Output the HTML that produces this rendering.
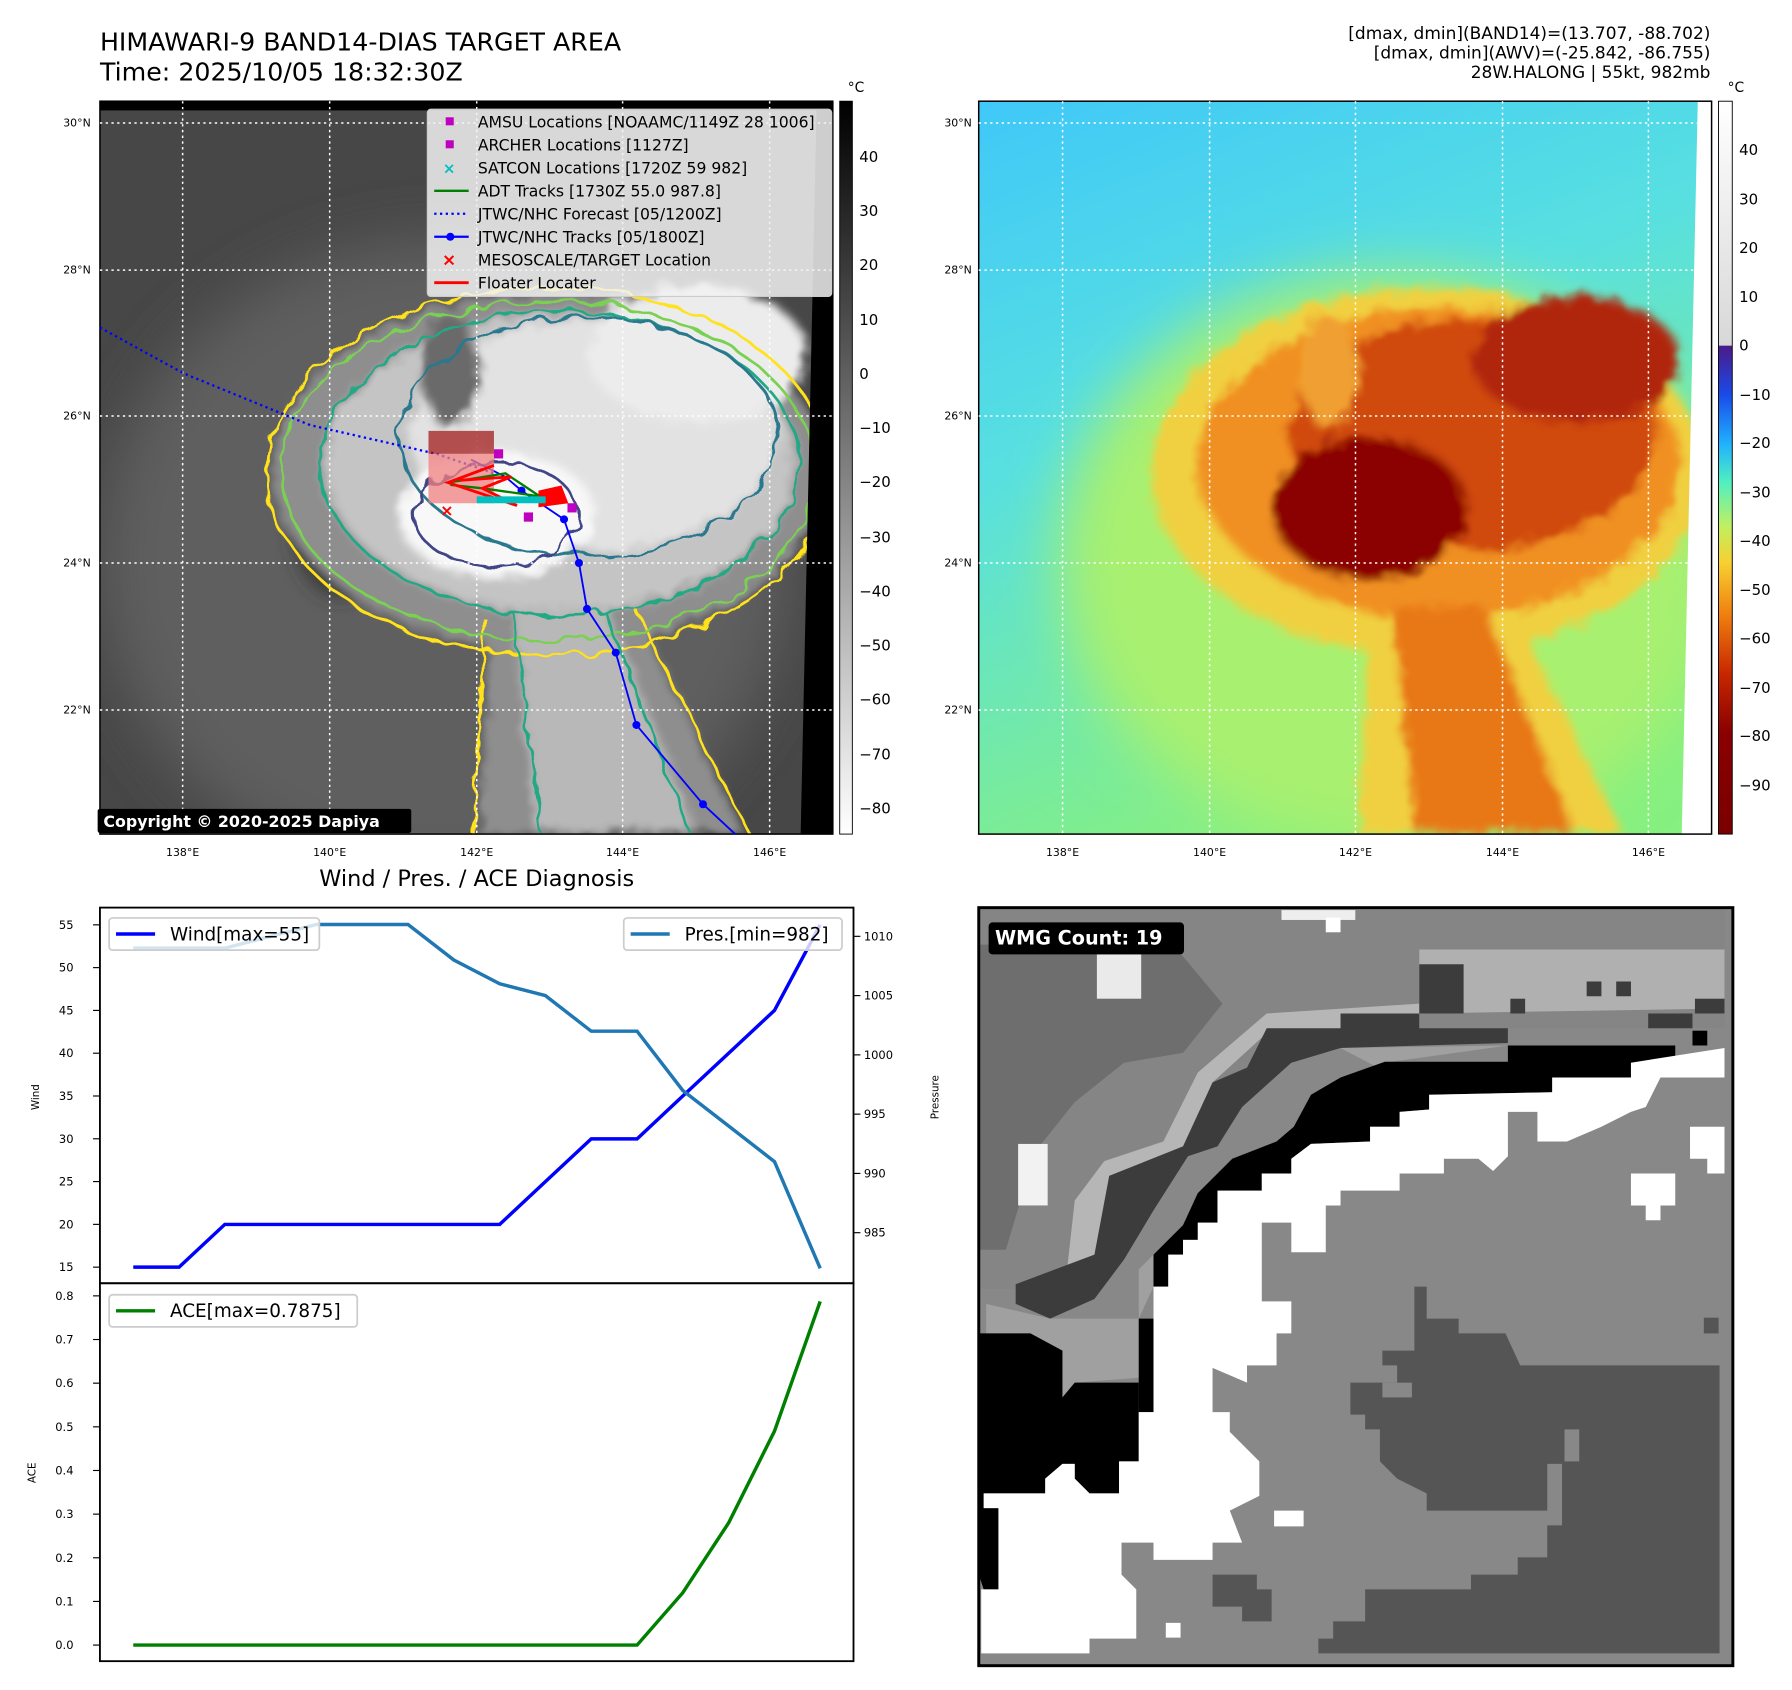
<!DOCTYPE html>
<html><head><meta charset="utf-8"><style>
html,body{margin:0;padding:0;background:#fff;}
svg{display:block;font-family:"DejaVu Sans","Liberation Sans",sans-serif;}
</style></head><body>
<svg id="root" width="1792" height="1690" viewBox="0 0 1560 1471" xmlns="http://www.w3.org/2000/svg">
<defs>
  <filter id="b30" x="-50%" y="-50%" width="200%" height="200%"><feGaussianBlur stdDeviation="25"/></filter>
  <filter id="b10" x="-50%" y="-50%" width="200%" height="200%"><feGaussianBlur stdDeviation="9"/></filter>
  <filter id="b4" x="-50%" y="-50%" width="200%" height="200%"><feGaussianBlur stdDeviation="4"/></filter>
  <filter id="wig" x="-10%" y="-10%" width="120%" height="120%"><feTurbulence type="fractalNoise" baseFrequency="0.05" numOctaves="2" seed="3"/><feDisplacementMap in="SourceGraphic" scale="14"/></filter>
  <clipPath id="cmap"><rect x="0" y="0" width="638" height="638"/></clipPath>
  <linearGradient id="gray" x1="0" y1="0" x2="0" y2="1"><stop offset="0" stop-color="#000"/><stop offset="1" stop-color="#fff"/></linearGradient>
  <linearGradient id="awv" x1="0" y1="0" x2="0" y2="1">
    <stop offset="0" stop-color="#ffffff"/><stop offset="0.333" stop-color="#d8d8d8"/>
    <stop offset="0.334" stop-color="#4b1a8a"/><stop offset="0.40" stop-color="#1a4ae8"/>
    <stop offset="0.467" stop-color="#20b0ff"/><stop offset="0.52" stop-color="#50f0c0"/>
    <stop offset="0.58" stop-color="#c0f060"/><stop offset="0.63" stop-color="#f8d030"/>
    <stop offset="0.70" stop-color="#f08010"/><stop offset="0.78" stop-color="#c82800"/>
    <stop offset="0.86" stop-color="#8b0000"/><stop offset="1" stop-color="#7a0000"/>
  </linearGradient>
  <linearGradient id="awvbg" x1="0" y1="0" x2="0.4" y2="1"><stop offset="0" stop-color="#40c8f8"/><stop offset="0.45" stop-color="#58e0e0"/><stop offset="1" stop-color="#86f080"/></linearGradient>
</defs>

<!-- Titles -->
<text x="87" y="44" font-size="22">HIMAWARI-9 BAND14-DIAS TARGET AREA</text>
<text x="87" y="70" font-size="22">Time: 2025/10/05 18:32:30Z</text>
<text x="1489" y="34" font-size="14.8" text-anchor="end">[dmax, dmin](BAND14)=(13.707, -88.702)</text>
<text x="1489" y="51" font-size="14.8" text-anchor="end">[dmax, dmin](AWV)=(-25.842, -86.755)</text>
<text x="1489" y="68" font-size="14.8" text-anchor="end">28W.HALONG | 55kt, 982mb</text>

<!-- LEFT MAP -->
<g transform="translate(87,88)">
 <g clip-path="url(#cmap)">
  <rect width="638" height="638" fill="#474747"/>
  <ellipse cx="300" cy="400" rx="300" ry="280" fill="#5e5e5e" filter="url(#b30)"/>
  <ellipse cx="210" cy="370" rx="40" ry="60" fill="#303030" filter="url(#b10)"/>
  <g filter="url(#wig)">
   <g filter="url(#b4)">
    <ellipse cx="390" cy="322" rx="240" ry="155" fill="#8e8e8e"/>
    <polygon points="340,440 460,430 560,638 330,638" fill="#8e8e8e"/>
    <ellipse cx="400" cy="315" rx="205" ry="130" fill="#c4c4c4"/>
    <polygon points="360,440 440,440 520,638 380,638" fill="#b8b8b8"/>
    <ellipse cx="430" cy="290" rx="160" ry="100" fill="#e2e2e2"/>
    <ellipse cx="520" cy="220" rx="95" ry="60" fill="#ececec"/>
    <ellipse cx="305" cy="235" rx="25" ry="50" fill="#6a6a6a"/>
    <ellipse cx="345" cy="360" rx="85" ry="55" fill="#f8f8f8"/>
   </g>
   <g fill="none" stroke-width="2.4">
    <ellipse cx="390" cy="322" rx="245" ry="160" stroke="#ffe21a"/>
    <polyline points="335,450 325,638" stroke="#ffe21a"/><polyline points="465,440 565,638" stroke="#ffe21a"/>
    <ellipse cx="390" cy="322" rx="232" ry="148" stroke="#7ad151"/>
    <ellipse cx="400" cy="315" rx="208" ry="132" stroke="#22a884"/>
    <polyline points="360,445 385,638" stroke="#22a884"/><polyline points="440,445 515,638" stroke="#22a884"/>
    <ellipse cx="425" cy="292" rx="165" ry="104" stroke="#2a788e"/>
    <ellipse cx="345" cy="360" rx="72" ry="45" stroke="#414487"/>
   </g>
  </g>
  <polygon points="624,0 638,0 638,638 610,638" fill="#000"/>
  <rect x="0" y="0" width="638" height="8" fill="#000"/>
 </g>
 <rect width="638" height="638" fill="none" stroke="#000" stroke-width="1.3"/>
</g>
<g stroke="#fff" stroke-width="1.3" stroke-dasharray="2,3">
 <line x1="159" y1="88" x2="159" y2="726"/><line x1="287" y1="88" x2="287" y2="726"/><line x1="415" y1="88" x2="415" y2="726"/><line x1="542" y1="88" x2="542" y2="726"/><line x1="670" y1="88" x2="670" y2="726"/>
 <line x1="87" y1="107" x2="725" y2="107"/><line x1="87" y1="235" x2="725" y2="235"/><line x1="87" y1="362" x2="725" y2="362"/><line x1="87" y1="490" x2="725" y2="490"/><line x1="87" y1="618" x2="725" y2="618"/>
</g>
<polyline points="87,285 160,325 270,370 380,395 430,412" fill="none" stroke="#0000ff" stroke-width="2" stroke-dasharray="2,3"/>
<g>
 <polyline points="410,400 440,415 454,427 491,452 504,490 511,530 536,568 554,631 612,700 640,726" fill="none" stroke="#0000ff" stroke-width="1.6"/>
 <g fill="#0000ff"><circle cx="454" cy="427" r="3.5"/><circle cx="491" cy="452" r="3.5"/><circle cx="504" cy="490" r="3.5"/><circle cx="511" cy="530" r="3.5"/><circle cx="536" cy="568" r="3.5"/><circle cx="554" cy="631" r="3.5"/><circle cx="612" cy="700" r="3.5"/></g>
</g>
<rect x="373" y="375" width="57" height="20" fill="#a01010" opacity="0.7"/>
<rect x="373" y="395" width="57" height="43" fill="#f08080" opacity="0.75"/>
<g stroke="#008000" stroke-width="2" fill="none"><polyline points="390,420 440,412 470,432 420,425 392,422"/></g>
<g fill="#ff0000" stroke="#ff0000" stroke-width="2.5"><polyline points="430,405 390,420 450,440 420,425 445,415 400,418" fill="none"/><polygon points="470,428 488,424 493,437 470,440"/></g>
<g fill="#00c0c0"><rect x="415" y="432" width="60" height="6"/></g>
<g fill="#c000c0"><rect x="430" y="391" width="8" height="8"/><rect x="494" y="438" width="8" height="8"/><rect x="456" y="446" width="8" height="8"/></g>
<text x="389" y="449" font-size="14" fill="#ff0000" text-anchor="middle" font-weight="bold">×</text>

<g>
 <rect x="372" y="95" width="352" height="163" rx="3" fill="#f2f2f2" fill-opacity="0.85" stroke="#ccc"/>
 <g font-size="13.6">
  <rect x="388" y="102" width="7" height="7" fill="#c000c0"/><text x="416" y="111">AMSU Locations [NOAAMC/1149Z 28 1006]</text>
  <rect x="388" y="122" width="7" height="7" fill="#c000c0"/><text x="416" y="131">ARCHER Locations [1127Z]</text>
  <text x="391" y="151" fill="#00c0c0" text-anchor="middle" font-weight="bold" font-size="13">×</text><text x="416" y="151">SATCON Locations [1720Z 59 982]</text>
  <line x1="378" y1="166" x2="408" y2="166" stroke="#008000" stroke-width="2"/><text x="416" y="171">ADT Tracks [1730Z 55.0 987.8]</text>
  <line x1="378" y1="186" x2="408" y2="186" stroke="#0000ff" stroke-width="2" stroke-dasharray="2,3"/><text x="416" y="191">JTWC/NHC Forecast [05/1200Z]</text>
  <line x1="378" y1="206" x2="408" y2="206" stroke="#0000ff" stroke-width="2"/><circle cx="392" cy="206" r="3.5" fill="#0000ff"/><text x="416" y="211">JTWC/NHC Tracks [05/1800Z]</text>
  <text x="391" y="231" fill="#ff0000" text-anchor="middle" font-weight="bold" font-size="15">×</text><text x="416" y="231">MESOSCALE/TARGET Location</text>
  <line x1="378" y1="246" x2="408" y2="246" stroke="#ff0000" stroke-width="2.5"/><text x="416" y="251">Floater Locater</text>
 </g>
</g>
<rect x="85" y="704" width="273" height="21" rx="2" fill="#000"/>
<text x="90" y="720" font-size="13.8" font-weight="bold" fill="#fff">Copyright © 2020-2025 Dapiya</text>

<g font-size="9.5" text-anchor="end">
 <text x="79" y="110">30°N</text><text x="79" y="238">28°N</text><text x="79" y="365">26°N</text><text x="79" y="493">24°N</text><text x="79" y="621">22°N</text>
</g>
<g font-size="9.5" text-anchor="middle">
 <text x="159" y="745">138°E</text><text x="287" y="745">140°E</text><text x="415" y="745">142°E</text><text x="542" y="745">144°E</text><text x="670" y="745">146°E</text>
</g>
<rect x="731" y="88" width="11" height="638" fill="url(#gray)" stroke="#000" stroke-width="0.8"/>
<text x="738" y="80" font-size="12">°C</text>
<g font-size="13">
 <text x="748" y="141">40</text><text x="748" y="188">30</text><text x="748" y="235">20</text><text x="748" y="283">10</text><text x="748" y="330">0</text><text x="748" y="377">−10</text><text x="748" y="424">−20</text><text x="748" y="472">−30</text><text x="748" y="519">−40</text><text x="748" y="566">−50</text><text x="748" y="613">−60</text><text x="748" y="661">−70</text><text x="748" y="708">−80</text>
</g>

<!-- RIGHT MAP -->
<g transform="translate(852,88)">
 <g clip-path="url(#cmap)">
  <rect width="638" height="638" fill="url(#awvbg)"/>
  <ellipse cx="360" cy="400" rx="290" ry="250" fill="#a8f070" filter="url(#b30)"/>
  <g filter="url(#wig)">
   <g filter="url(#b4)">
    <ellipse cx="390" cy="322" rx="240" ry="160" fill="#f0d040"/>
    <polygon points="340,440 460,430 560,638 330,638" fill="#f0d040"/>
    <ellipse cx="400" cy="315" rx="210" ry="135" fill="#f09020"/>
    <polygon points="360,440 440,440 520,638 380,638" fill="#e87818"/>
    <ellipse cx="430" cy="290" rx="160" ry="100" fill="#d04808"/>
    <ellipse cx="520" cy="225" rx="90" ry="55" fill="#b02808"/>
    <ellipse cx="305" cy="235" rx="25" ry="50" fill="#f0a030"/>
    <ellipse cx="340" cy="355" rx="85" ry="62" fill="#8b0000"/>
   </g>
  </g>
  <polygon points="626,0 638,0 638,638 612,638" fill="#fff"/>
 </g>
 <rect width="638" height="638" fill="none" stroke="#000" stroke-width="1.3"/>
</g>
<g stroke="#fff" stroke-width="1.3" stroke-dasharray="2,3">
 <line x1="925" y1="88" x2="925" y2="726"/><line x1="1053" y1="88" x2="1053" y2="726"/><line x1="1180" y1="88" x2="1180" y2="726"/><line x1="1308" y1="88" x2="1308" y2="726"/><line x1="1435" y1="88" x2="1435" y2="726"/>
 <line x1="852" y1="107" x2="1490" y2="107"/><line x1="852" y1="235" x2="1490" y2="235"/><line x1="852" y1="362" x2="1490" y2="362"/><line x1="852" y1="490" x2="1490" y2="490"/><line x1="852" y1="618" x2="1490" y2="618"/>
</g>
<g font-size="9.5" text-anchor="end">
 <text x="846" y="110">30°N</text><text x="846" y="238">28°N</text><text x="846" y="365">26°N</text><text x="846" y="493">24°N</text><text x="846" y="621">22°N</text>
</g>
<g font-size="9.5" text-anchor="middle">
 <text x="925" y="745">138°E</text><text x="1053" y="745">140°E</text><text x="1180" y="745">142°E</text><text x="1308" y="745">144°E</text><text x="1435" y="745">146°E</text>
</g>
<rect x="1496" y="88" width="12" height="638" fill="url(#awv)" stroke="#000" stroke-width="0.8"/>
<text x="1504" y="80" font-size="12">°C</text>
<g font-size="13">
 <text x="1514" y="135">40</text><text x="1514" y="178">30</text><text x="1514" y="220">20</text><text x="1514" y="263">10</text><text x="1514" y="305">0</text><text x="1514" y="348">−10</text><text x="1514" y="390">−20</text><text x="1514" y="433">−30</text><text x="1514" y="475">−40</text><text x="1514" y="518">−50</text><text x="1514" y="560">−60</text><text x="1514" y="603">−70</text><text x="1514" y="645">−80</text><text x="1514" y="688">−90</text>
</g>

<!-- WMG panel -->
<g transform="translate(849.9,787.9) scale(0.4285)">
 <rect x="5" y="5" width="1532" height="1540" fill="#888"/>
 <polygon fill="#858585" points="5,5 1520,5 1520,250 1100,250 900,260 740,250 590,250 550,330 480,360 420,490 380,540 270,550 240,700 240,780 5,780"/>
 <polygon fill="#6e6e6e" points="5,80 400,80 500,200 420,300 300,320 200,400 120,500 60,700 5,700"/>
 <polygon fill="#b6b6b6" points="590,220 900,200 900,250 590,260 480,360 420,490 270,550 240,780 180,780 200,600 260,520 380,480 450,340"/>
 <polygon fill="#b0b0b0" points="900,90 1520,90 1520,210 900,220"/>
 <rect x="620" y="10" width="150" height="20" fill="#eee"/><rect x="710" y="25" width="30" height="30" fill="#fff"/>
 <rect x="245" y="100" width="90" height="90" fill="#eaeaea"/><rect x="85" y="485" width="60" height="125" fill="#f2f2f2"/>
 <polygon fill="#3c3c3c" points="590,250 740,250 740,220 900,220 900,250 1080,250 1080,280 740,290 640,320 540,410 490,490 430,510 360,620 300,720 240,800 150,840 80,810 80,770 240,710 270,550 420,490 480,360 550,330"/>
 <rect x="900" y="120" width="90" height="100" fill="#3c3c3c"/><rect x="1365" y="220" width="90" height="30" fill="#3c3c3c"/><rect x="1460" y="190" width="60" height="30" fill="#3c3c3c"/>
 <rect x="1240" y="155" width="30" height="30" fill="#3c3c3c"/><rect x="1300" y="155" width="30" height="30" fill="#3c3c3c"/><rect x="1085" y="190" width="30" height="30" fill="#3c3c3c"/>
 <polygon fill="#a0a0a0" points="740,290 1080,285 830,320 740,350 680,385 645,450 610,480 520,515 490,545 450,585 420,650 390,680 360,710 330,740 330,840 210,870 180,900 170,990 200,970 330,960 330,840 150,840 20,810 20,870 110,870 175,905 175,1000 200,970 300,960 300,870 330,840 360,775 390,710 420,680 450,645 490,580 580,545 640,515 680,485 800,450 860,420 920,385"/>
 <polygon fill="#000" points="1080,285 1420,285 1420,320 1330,320 1330,350 1170,350 1170,380 920,385 920,415 860,420 860,450 800,450 800,480 680,485 640,515 640,545 580,545 580,580 490,580 490,645 450,645 450,680 420,680 420,710 390,710 390,775 360,775 360,710 390,680 420,650 450,585 490,545 520,515 610,480 645,450 680,385 740,350 830,318 1080,318"/>
 <rect x="1455" y="255" width="30" height="30" fill="#000"/>
 <polygon fill="#000" points="330,840 360,840 360,1030 330,1030"/>
 <polygon fill="#000" points="5,870 110,870 175,905 175,1000 200,970 330,970 330,1130 290,1130 290,1195 230,1195 200,1165 200,1135 175,1135 140,1165 140,1195 15,1195 15,1225 45,1225 45,1390 15,1390 5,1360"/>
 <polygon fill="#fff" points="1330,320 1520,290 1520,350 1390,350 1360,410 1330,420 1270,450 1200,480 1140,480 1140,420 1080,420 1080,510 1050,540 1020,515 950,515 950,545 860,545 860,580 740,580 740,610 710,610 710,705 640,705 640,645 580,645 580,805 640,805 640,870 610,870 610,935 550,935 550,970 480,940 480,1030 515,1030 515,1070 545,1100 575,1130 575,1200 515,1230 540,1295 480,1295 480,1330 360,1330 360,1295 295,1295 295,1360 325,1390 325,1490 230,1490 230,1520 10,1520 10,1390 45,1390 45,1225 15,1225 15,1195 140,1195 140,1165 175,1135 200,1135 200,1165 230,1195 290,1195 290,1130 330,1130 330,1030 360,1030 360,775 390,775 390,710 420,710 420,680 450,680 450,645 490,645 490,580 580,580 580,545 640,545 640,515 680,485 800,480 800,450 860,450 860,420 920,415 920,385 1170,380 1170,350 1330,350"/>
 <polygon fill="#fff" points="1330,545 1420,545 1420,610 1390,610 1390,640 1360,640 1360,610 1330,610"/>
 <polygon fill="#fff" points="1450,450 1520,450 1520,545 1485,545 1485,515 1450,515"/>
 <rect x="605" y="1230" width="60" height="32" fill="#fff"/><rect x="385" y="1458" width="30" height="30" fill="#fff"/>
 <polygon fill="#555" points="890,775 915,775 915,840 980,840 980,870 1075,870 1105,935 1510,935 1510,1520 695,1520 695,1490 725,1490 725,1455 790,1455 790,1390 1005,1390 1005,1360 1100,1360 1100,1325 1160,1325 1160,1260 1190,1260 1190,1135 1160,1135 1160,1230 915,1230 915,1195 855,1165 820,1130 820,1065 790,1065 790,1035 760,1035 760,970 855,970 855,935 825,935 825,905 890,905"/>
 <polygon fill="#555" points="480,1360 570,1360 570,1390 600,1390 600,1455 540,1455 540,1425 480,1425"/>
 <rect x="1195" y="1065" width="30" height="65" fill="#888"/><rect x="825" y="970" width="60" height="30" fill="#888"/><rect x="1478" y="838" width="30" height="32" fill="#555"/>
 <rect x="5" y="5" width="1532" height="1540" fill="none" stroke="#000" stroke-width="6"/>
 <rect x="25" y="35" width="397" height="65" rx="8" fill="#000"/>
 <text x="38" y="80" font-size="39" font-weight="bold" fill="#fff">WMG Count: 19</text>
</g>

<text x="415" y="771" font-size="19.5" text-anchor="middle">Wind / Pres. / ACE Diagnosis</text>
<g id="chart"></g>
</svg>
<script>
const windVals = [15,15,20,20,20,20,20,20,20,25,30,30,35,40,45,55];
const presVals = [1009,1009,1009,1010,1011,1011,1011,1008,1006,1005,1002,1002,997,994,991,982];
const aceVals = [0,0,0,0,0,0,0,0,0,0,0,0,0.12,0.28,0.49,0.7875];
const windTicks = [15,20,25,30,35,40,45,50,55];
const presTicks = [985,990,995,1000,1005,1010];
const aceTicks = [0.0,0.1,0.2,0.3,0.4,0.5,0.6,0.7,0.8];

const NS = 'http://www.w3.org/2000/svg';
const chart = document.getElementById('chart');
const xS = i => 116 + i * 39.87;
const wY = v => 1103 - (v - 15) * 7.45;
const pY = p => 815 + (1010 - p) * 10.32;
const aY = a => 1432 - a * 380;
function mk(tag, attrs, parent) {
  const e = document.createElementNS(NS, tag);
  for (const k in attrs) e.setAttribute(k, attrs[k]);
  (parent || chart).appendChild(e);
  return e;
}
let f1 = mk('rect', {x: 87, y: 790, width: 656, height: 327, fill: 'none', stroke: '#000', 'stroke-width': 1.6});


let f2 = mk('rect', {x: 87, y: 1117, width: 656, height: 329, fill: 'none', stroke: '#000', 'stroke-width': 1.6});


function tick(x1, y, x2, lx, label, anchor, name) {
  mk('line', {x1: x1, y1: y, x2: x2, y2: y, stroke: '#000', 'stroke-width': 1});
  const t = mk('text', {x: lx, y: y + 3.5, 'font-size': 10, 'text-anchor': anchor});
  t.textContent = label;
  
  
}
windTicks.forEach(v => tick(81, wY(v), 87, 64, String(v), 'end', 'wind-tick-label'));
presTicks.forEach(v => tick(743, pY(v), 749, 752, String(v), 'start', 'pressure-tick-label'));
aceTicks.forEach(v => tick(81, aY(v), 87, 64, v.toFixed(1), 'end', 'ace-tick-label'));
function ylabel(x, y, txt, name) {
  const t = mk('text', {x: x, y: y, 'font-size': 9, 'text-anchor': 'middle', transform: 'rotate(-90 ' + x + ' ' + y + ')'});
  t.textContent = txt;
  
  
}
ylabel(34, 955, 'Wind', 'wind-axis-title');
ylabel(817, 955, 'Pressure', 'pressure-axis-title');
ylabel(31, 1282, 'ACE', 'ace-axis-title');
function line(vals, yf, color, name) {
  const pts = vals.map((v, i) => xS(i).toFixed(1) + ',' + yf(v).toFixed(1)).join(' ');
  const p = mk('polyline', {points: pts, fill: 'none', stroke: color, 'stroke-width': 3});
  
  
}
line(windVals, wY, '#0000ff', 'wind-line');
line(presVals, pY, '#1f77b4', 'pressure-line');
line(aceVals, aY, '#008000', 'ace-line');
function legend(x, y, w, color, txt, name) {
  const g = mk('g', {});
  
  
  mk('rect', {x: x, y: y, width: w, height: 28, rx: 3, fill: '#fff', 'fill-opacity': 0.8, stroke: '#ccc', 'stroke-width': 1.5}, g);
  mk('line', {x1: x + 6, y1: y + 14, x2: x + 40, y2: y + 14, stroke: color, 'stroke-width': 3}, g);
  const t = mk('text', {x: x + 53, y: y + 19.5, 'font-size': 16}, g);
  t.textContent = txt;
}
legend(95, 799, 183, '#0000ff', 'Wind[max=55]', 'wind-legend');
legend(543, 799, 190, '#1f77b4', 'Pres.[min=982]', 'pressure-legend');
legend(95, 1127, 216, '#008000', 'ACE[max=0.7875]', 'ace-legend');
</script>
</body></html>
